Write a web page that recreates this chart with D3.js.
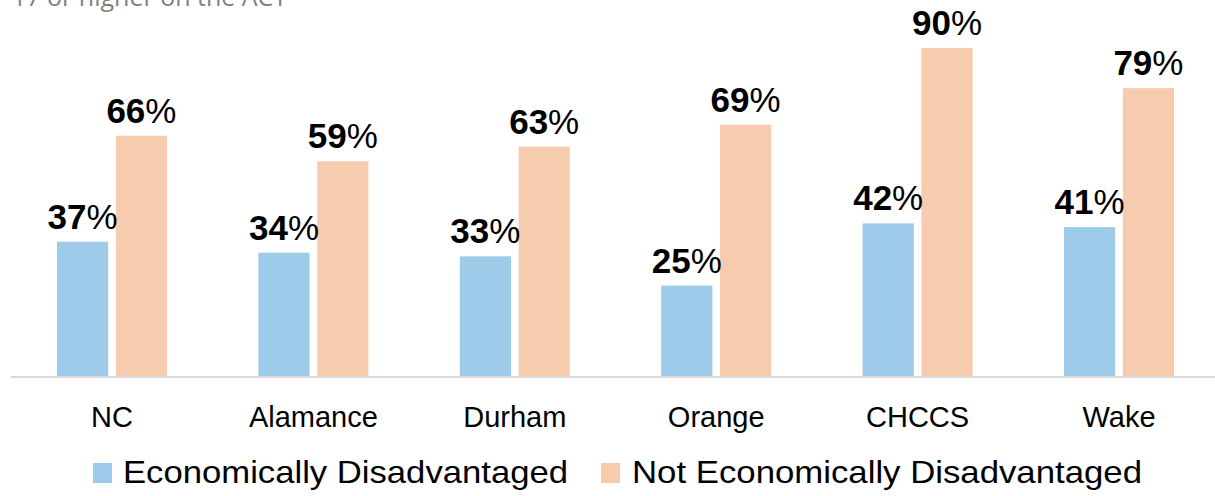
<!DOCTYPE html>
<html>
<head>
<meta charset="utf-8">
<script src="https://cdn.jsdelivr.net/npm/d3@7"></script>
<style>
html,body{margin:0;padding:0;background:#fff;}
svg{display:block;}
</style>
</head>
<body>
<svg id="chart" width="1215" height="496"></svg>
<script>
const categories = ["NC", "Alamance", "Durham", "Orange", "CHCCS", "Wake"];
const seriesNames = ["Economically Disadvantaged", "Not Economically Disadvantaged"];
const econDisadvantaged = [37, 34, 33, 25, 42, 41];
const notEconDisadvantaged = [66, 59, 63, 69, 90, 79];
const colors = ["#9dcbe9", "#f7cbad"];
const subtitle = "17 or higher on the ACT";

const svg = d3.select("#chart");
const baseY = 377;

const x0 = d3.scaleBand().domain(categories).range([11.3, 1219.7]).paddingInner(0).paddingOuter(0);
const x1 = d3.scaleBand().domain(seriesNames).range([-55, 55]).paddingInner(0.13);
const y = d3.scaleLinear().domain([0, 100]).range([baseY, 11.4]);

// subtitle (cut off at top)
svg.append("text")
  .attr("x", 12).attr("y", 5.5)
  .attr("font-family", "'Open Sans', sans-serif")
  .attr("font-size", 25)
  .attr("fill", "#7f7f7f")
  .text(subtitle);

const data = categories.map((c, i) => ({
  cat: c,
  vals: [
    {s: seriesNames[0], v: econDisadvantaged[i], ci: 0},
    {s: seriesNames[1], v: notEconDisadvantaged[i], ci: 1}
  ]
}));

const groups = svg.selectAll("g.grp").data(data).enter().append("g")
  .attr("class", "grp")
  .attr("transform", d => `translate(${x0(d.cat) + x0.bandwidth() / 2},0)`);

groups.selectAll("rect").data(d => d.vals).enter().append("rect")
  .attr("x", d => x1(d.s))
  .attr("width", x1.bandwidth())
  .attr("y", d => y(d.v))
  .attr("height", d => baseY - y(d.v))
  .attr("fill", d => colors[d.ci]);

const lbl = groups.selectAll("text.val").data(d => d.vals).enter().append("text")
  .attr("class", "val")
  .attr("x", d => x1(d.s) + x1.bandwidth() / 2)
  .attr("y", d => y(d.v) - 13)
  .attr("text-anchor", "middle")
  .attr("font-family", "'Liberation Sans', Arial, sans-serif")
  .attr("font-size", 35)
  .attr("fill", "#000");
lbl.append("tspan").attr("font-weight", "bold").text(d => d.v);
lbl.append("tspan").attr("font-weight", "normal").text("%");

// baseline axis
const xAxis = d3.axisBottom(x0).tickSize(0).tickPadding(0);
const axG = svg.append("g").attr("transform", `translate(0,${baseY})`).call(xAxis);
axG.select(".domain").attr("stroke", "#d9d9d9").attr("stroke-width", 2)
  .attr("d", `M11,0H1215`);
axG.selectAll(".tick text")
  .attr("y", 50).attr("dy", 0)
  .attr("font-family", "'Liberation Sans', Arial, sans-serif")
  .attr("font-size", 29)
  .attr("fill", "#000");

// legend
const legendItems = [
  {name: seriesNames[0], c: colors[0], sx: 93, tx: 123, len: 445},
  {name: seriesNames[1], c: colors[1], sx: 601, tx: 632, len: 510}
];
const lg = svg.append("g");
legendItems.forEach(it => {
  lg.append("rect").attr("x", it.sx).attr("y", 463).attr("width", 19).attr("height", 20).attr("fill", it.c);
  lg.append("text").attr("x", it.tx).attr("y", 483)
    .attr("font-family", "'Liberation Sans', Arial, sans-serif")
    .attr("font-size", 32)
    .attr("textLength", it.len)
    .attr("lengthAdjust", "spacingAndGlyphs")
    .attr("fill", "#000")
    .text(it.name);
});
</script>
</body>
</html>
